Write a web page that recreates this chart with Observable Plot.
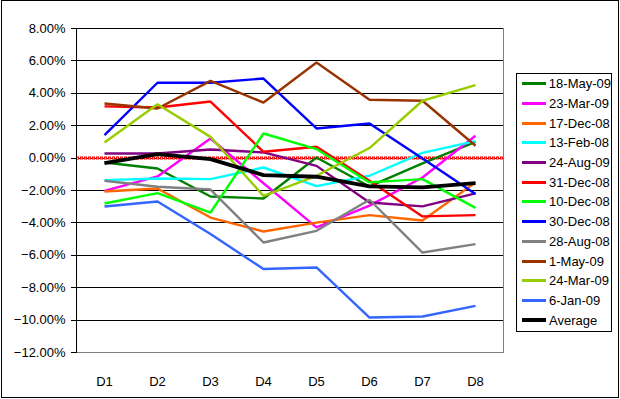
<!DOCTYPE html>
<html>
<head>
<meta charset="utf-8">
<script src="https://cdn.jsdelivr.net/npm/d3@7"></script>
<script src="https://cdn.jsdelivr.net/npm/@observablehq/plot@0.6"></script>
<style>
  html, body { margin: 0; padding: 0; background: #fff; }
  #wrap { position: relative; width: 620px; height: 399px; font-family: "Liberation Sans", Arial, sans-serif; }
  #frame { position: absolute; left: 1px; top: 0px; width: 616px; height: 396px; border: 1px solid #000; pointer-events: none; }
  #legend { position: absolute; left: 516px; top: 73px; width: 94px; height: 257px; border: 1px solid #000; background: #fff; font-size: 13px; }
  .row { height: 19.7px; display: flex; align-items: center; white-space: nowrap; }
  .sw { display: inline-block; width: 24px; margin-left: 5px; margin-right: 3px; }
</style>
</head>
<body>
<div id="wrap"><div id="chart"></div><div id="legend"></div><div id="frame"></div></div>
<script>
const days = ["D1", "D2", "D3", "D4", "D5", "D6", "D7", "D8"];
const yTicks = [8, 6, 4, 2, 0, -2, -4, -6, -8, -10, -12];

const seriesNames = ["18-May-09", "23-Mar-09", "17-Dec-08", "13-Feb-08", "24-Aug-09", "31-Dec-08",
  "10-Dec-08", "30-Dec-08", "28-Aug-08", "1-May-09", "24-Mar-09", "6-Jan-09", "Average"];
const seriesColors = ["#008000", "#FF00FF", "#FF6600", "#00FFFF", "#800080", "#FF0000",
  "#00FF00", "#0000FF", "#808080", "#993300", "#99CC00", "#3366FF", "#000000"];

// values in percent
const s18May09 = [-0.27, -0.64, -2.37, -2.49, 0.04, -1.75, -0.33, 1.0];
const s23Mar09 = [-2.02, -1.13, 1.21, -1.55, -4.28, -2.93, -1.2, 1.38];
const s17Dec08 = [-2.06, -1.88, -3.67, -4.53, -3.98, -3.52, -3.85, -1.5];
const s13Feb08 = [-1.36, -1.26, -1.3, -0.58, -1.73, -1.09, 0.32, 1.05];
const s24Aug09 = [0.28, 0.28, 0.53, 0.35, -0.48, -2.74, -2.98, -2.18];
const s31Dec08 = [3.19, 3.12, 3.49, 0.39, 0.7, -1.4, -3.6, -3.52];
const s10Dec08 = [-2.8, -2.16, -3.36, 1.52, 0.56, -1.5, -1.3, -3.07];
const s30Dec08 = [1.42, 4.65, 4.65, 4.91, 1.83, 2.14, -0.02, -2.22];
const s28Aug08 = [-1.4, -1.77, -1.94, -5.21, -4.49, -2.57, -5.83, -5.31];
const s1May09 = [3.37, 3.06, 4.77, 3.43, 5.9, 3.6, 3.54, 0.76];
const s24Mar09 = [0.96, 3.33, 1.31, -2.33, -1.09, 0.62, 3.54, 4.5];
const s6Jan09 = [-2.99, -2.68, -4.69, -6.85, -6.75, -9.84, -9.78, -9.12];
const average = [-0.31, 0.25, -0.06, -1.05, -1.15, -1.75, -1.81, -1.54];

const seriesValues = [s18May09, s23Mar09, s17Dec08, s13Feb08, s24Aug09, s31Dec08,
  s10Dec08, s30Dec08, s28Aug08, s1May09, s24Mar09, s6Jan09, average];

const data = [];
seriesNames.forEach((name, i) => {
  seriesValues[i].forEach((v, j) => data.push({series: name, day: days[j], value: v}));
});
const regular = data.filter(d => d.series !== "Average");
const avgData = data.filter(d => d.series === "Average");

const fmt = v => d3.format(".2f")(v) + "%";

const chart = Plot.plot({
  width: 620,
  height: 399,
  marginLeft: 76,
  marginRight: 117,
  marginTop: 28,
  marginBottom: 47,
  style: {fontFamily: '"Liberation Sans", Arial, sans-serif', fontSize: "13px", background: "transparent", color: "#000"},
  x: {type: "point", domain: days, padding: 0.5},
  y: {domain: [-12, 8]},
  color: {domain: seriesNames, range: seriesColors},
  marks: [
    Plot.ruleY(yTicks.filter(t => t > -12), {stroke: "#000", strokeWidth: 1, shapeRendering: "crispEdges"}),
    Plot.frame({anchor: "bottom", stroke: "#808080", shapeRendering: "crispEdges"}),
    Plot.frame({anchor: "right", stroke: "#808080", shapeRendering: "crispEdges"}),
    Plot.ruleY([0], {stroke: "#FF0000", strokeWidth: 3, strokeDasharray: "3,1"}),
    Plot.ruleY([0], {stroke: "#FFFFFF", strokeWidth: 1, strokeDasharray: "1,3", strokeDashoffset: -1}),
    Plot.line(regular, {x: "day", y: "value", z: "series", stroke: "series", strokeWidth: 2.4, strokeLinejoin: "miter", strokeLinecap: "butt"}),
    Plot.line(avgData, {x: "day", y: "value", stroke: "series", strokeWidth: 3.8, strokeLinejoin: "miter", strokeLinecap: "butt"}),
    Plot.frame({anchor: "left", stroke: "#000", shapeRendering: "crispEdges"}),
    Plot.axisY({ticks: yTicks, tickFormat: fmt, tickSize: 5, tickPadding: 6, label: null, stroke: "#000", fontSize: 13, shapeRendering: "crispEdges"}),
    Plot.axisX({tickSize: 0, tickPadding: 24, label: null, fontSize: 13})
  ]
});
document.getElementById("chart").appendChild(chart);

const legend = document.getElementById("legend");
seriesNames.forEach((name, i) => {
  const row = document.createElement("div");
  row.className = "row";
  const sw = document.createElement("span");
  sw.className = "sw";
  sw.style.borderTop = (name === "Average" ? 4 : 3) + "px solid " + seriesColors[i];
  row.appendChild(sw);
  const t = document.createElement("span");
  t.textContent = name;
  row.appendChild(t);
  legend.appendChild(row);
});
</script>
</body>
</html>
